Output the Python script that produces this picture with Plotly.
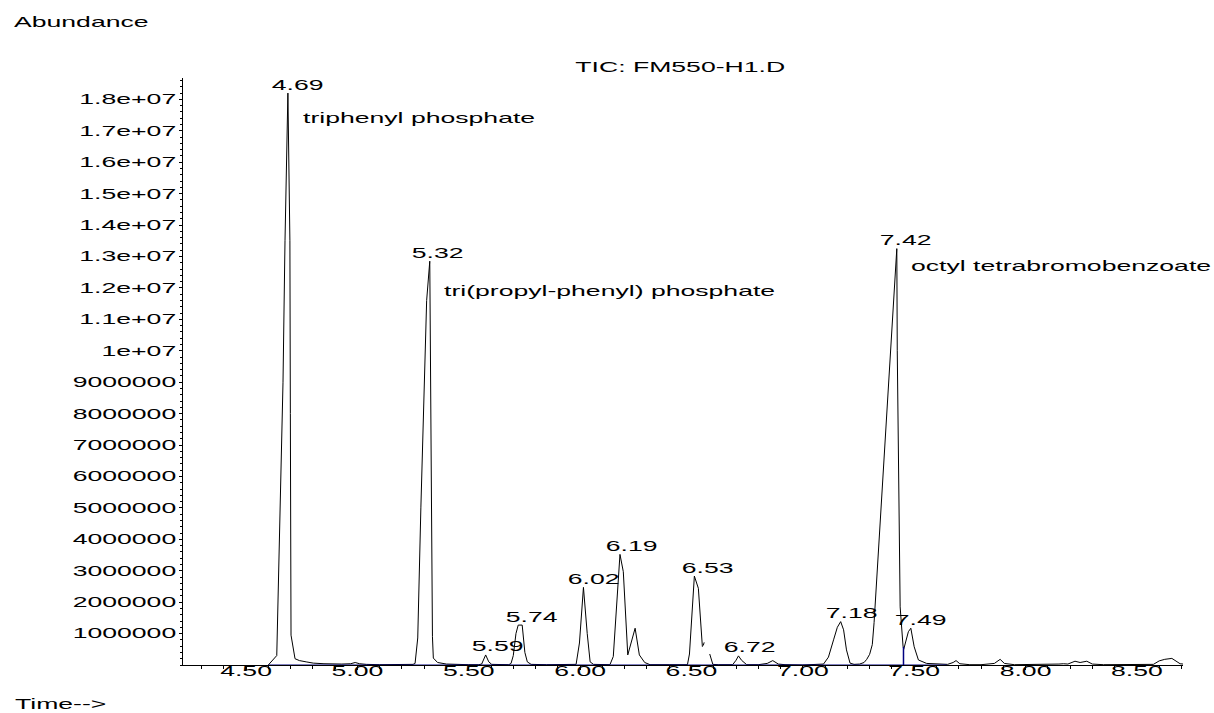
import plotly.graph_objects as go

# ---------------- data ----------------
time_min = [
    4.600, 4.638, 4.666, 4.675, 4.688, 4.697, 4.699, 4.702, 4.720, 4.740,
    4.770, 4.802, 4.850, 4.885, 4.900, 4.930, 4.970, 4.990, 5.010, 5.040,
    5.100, 5.200, 5.250, 5.259, 5.271, 5.285, 5.300, 5.311, 5.325, 5.329,
    5.337, 5.341, 5.360, 5.400, 5.450, 5.500, 5.545, 5.558, 5.576, 5.590,
    5.603, 5.640, 5.680, 5.690, 5.700, 5.712, 5.722, 5.740, 5.752, 5.763,
    5.780, 5.850, 5.920, 5.982, 5.997, 6.015, 6.032, 6.045, 6.060, 6.100,
    6.134, 6.149, 6.169, 6.179, 6.194, 6.214, 6.247, 6.266, 6.290, 6.314,
    6.400, 6.482, 6.491, 6.513, 6.531, 6.549, None, 6.553, 6.557, None,
    6.582, 6.596, 6.620, 6.685, 6.700, 6.711, 6.725, 6.748, 6.800, 6.840,
    6.865, 6.890, 6.920, 7.000, 7.093, 7.115, 7.138, 7.155, 7.170, 7.183,
    7.196, 7.212, 7.230, 7.255, 7.275, 7.287, 7.300, 7.312, 7.320, 7.340,
    7.360, 7.380, 7.400, 7.422, 7.424, 7.437, 7.450, 7.453, 7.474,
    7.485, 7.500, 7.519, 7.556, 7.600, 7.650, 7.675, 7.688, 7.705, 7.750,
    7.800, 7.860, 7.886, 7.905, 7.950, 8.100, 8.150, 8.170, 8.190, 8.222,
    8.245, 8.275, 8.300, 8.350, 8.450, 8.574, 8.600, 8.625, 8.657, 8.680,
    8.694, 8.707,
]
abundance = [
    0, 300000, 9000000, 13500000, 18200000, 13500000, 8000000, 950000, 200000, 140000,
    100000, 60000, 40000, 30000, 30000, 30000, 40000, 80000, 40000, 20000,
    10000, 10000, 20000, 50000, 860000, 5000000, 8900000, 11600000, 12850000, 8750000,
    900000, 220000, 80000, 30000, 10000, 10000, 10000, 30000, 320000, 100000,
    20000, 10000, 10000, 50000, 300000, 1000000, 1270000, 1270000, 400000, 100000,
    20000, 10000, 10000, 20000, 700000, 2470000, 1000000, 100000, 20000, 10000,
    10000, 270000, 2470000, 3520000, 2970000, 320000, 1170000, 320000, 80000, 10000,
    10000, 10000, 350000, 2830000, 2440000, 580000, None, 620000, 720000, None,
    350000, 20000, 10000, 10000, 150000, 290000, 150000, 10000, 10000, 50000,
    140000, 30000, 10000, 0, 30000, 250000, 800000, 1200000, 1380000, 1120000,
    480000, 60000, 20000, 30000, 80000, 180000, 340000, 650000, 1350000, 3700000,
    6000000, 8400000, 10700000, 13250000, 10000000, 1850000, 600000, 500000, 1060000,
    1170000, 580000, 160000, 50000, 30000, 20000, 80000, 140000, 40000, 10000,
    10000, 50000, 180000, 50000, 10000, 10000, 30000, 40000, 30000, 120000,
    80000, 120000, 30000, 10000, 10000, 20000, 130000, 180000, 210000, 100000,
    40000, 30000,
]

baseline_time = [4.600, 7.646]
baseline_abund = [0, 0]
split_time = [7.452, 7.452]
split_abund = [0, 580000]

peak_labels = ["4.69", "5.32", "5.59", "5.74", "6.02", "6.19", "6.53", "6.72", "7.18", "7.42", "7.49"]
peak_heights = [18200000, 12850000, 320000, 1270000, 2470000, 3520000, 2830000, 290000, 1380000, 13250000, 1170000]

compound_names = ["triphenyl phosphate", "tri(propyl-phenyl) phosphate", "octyl tetrabromobenzoate"]
compound_rt = [4.69, 5.32, 7.42]

ytick_values = [1000000, 2000000, 3000000, 4000000, 5000000, 6000000, 7000000, 8000000, 9000000,
                10000000, 11000000, 12000000, 13000000, 14000000, 15000000, 16000000, 17000000, 18000000]
ytick_labels = ["1000000", "2000000", "3000000", "4000000", "5000000", "6000000", "7000000", "8000000",
                "9000000", "1e+07", "1.1e+07", "1.2e+07", "1.3e+07", "1.4e+07", "1.5e+07", "1.6e+07",
                "1.7e+07", "1.8e+07"]
xtick_values = [4.5, 5.0, 5.5, 6.0, 6.5, 7.0, 7.5, 8.0, 8.5]
xtick_labels = ["4.50", "5.00", "5.50", "6.00", "6.50", "7.00", "7.50", "8.00", "8.50"]

title_text = "TIC: FM550-H1.D"
y_title = "Abundance"
x_title = "Time-->"

# ---------------- figure ----------------
FONT = dict(family="Liberation Sans, Arial, sans-serif", size=14, color="black")

fig = go.Figure()
fig.add_trace(go.Scatter(x=time_min, y=abundance, mode="lines",
                         line=dict(color="black", width=1), connectgaps=False,
                         hoverinfo="skip", showlegend=False))
fig.add_trace(go.Scatter(x=baseline_time, y=baseline_abund, mode="lines",
                         line=dict(color="#000080", width=1), hoverinfo="skip", showlegend=False))
fig.add_trace(go.Scatter(x=split_time, y=split_abund, mode="lines",
                         line=dict(color="#000080", width=1.5), hoverinfo="skip", showlegend=False))

annotations = []
for lab, h in zip(peak_labels, peak_heights):
    annotations.append(dict(x=float(lab), y=h, xref="x", yref="y", text=lab, showarrow=False,
                            xanchor="center", yanchor="middle", xshift=9, yshift=8.5, font=FONT))

name_y = [17410000, 11900000, 12690000]
for name, rt, yy in zip(compound_names, compound_rt, name_y):
    annotations.append(dict(x=rt, y=yy, xref="x", yref="y", text=name, showarrow=False,
                            xanchor="left", align="left", yanchor="middle", xshift=13, font=FONT))

annotations.append(dict(x=0.497, y=1.0187, xref="paper", yref="paper", text=title_text,
                        showarrow=False, xanchor="center", yanchor="middle", font=FONT))
annotations.append(dict(x=-0.171, y=1.095, xref="paper", yref="paper", text=y_title,
                        showarrow=False, xanchor="left", align="left", yanchor="middle", font=FONT))
annotations.append(dict(x=-0.170, y=-0.0664, xref="paper", yref="paper", text=x_title,
                        showarrow=False, xanchor="left", align="left", yanchor="middle", font=FONT))

fig.update_layout(
    width=1214, height=713,
    margin=dict(l=183, r=31, t=78, b=48, pad=0),
    plot_bgcolor="white", paper_bgcolor="white",
    font=FONT,
    annotations=annotations,
    showlegend=False,
    xaxis=dict(range=[4.217, 8.707], showgrid=False, zeroline=False, showline=True,
               linecolor="black", linewidth=1, ticks="outside", ticklen=4, tickwidth=1,
               tickcolor="black", tickmode="array", tickvals=xtick_values, ticktext=xtick_labels,
               tickfont=FONT, layer="below traces", ticklabelstandoff=-11,
               minor=dict(tickmode="linear", tick0=4.2, dtick=0.1, ticks="outside",
                          ticklen=3, tickcolor="black", tickwidth=1, showgrid=False)),
    yaxis=dict(range=[0, 18680000], showgrid=False, zeroline=False, showline=True,
               linecolor="black", linewidth=1, ticks="outside", ticklen=3, tickwidth=1,
               tickcolor="black", tickmode="array", tickvals=ytick_values, ticktext=ytick_labels,
               tickfont=FONT, layer="below traces",
               minor=dict(tickmode="linear", tick0=0, dtick=200000, ticks="outside",
                          ticklen=2, tickcolor="black", tickwidth=1, showgrid=False)),
)

post_js = """
document.body.style.margin = '0';
var gd = document.getElementById('{plot_id}');
var SX = 1.9;
gd.querySelectorAll('text').forEach(function(t){
    if (t.getAttribute('data-sx')) return;
    var x = parseFloat(t.getAttribute('x') || '0');
    var tr = t.getAttribute('transform') || '';
    t.setAttribute('transform', tr + ' translate(' + x + ',0) scale(' + SX + ',1) translate(' + (-x) + ',0)');
    t.setAttribute('data-sx', '1');
});
"""

fig.write_html("out.html", config=dict(displayModeBar=False, staticPlot=True), post_script=post_js)
